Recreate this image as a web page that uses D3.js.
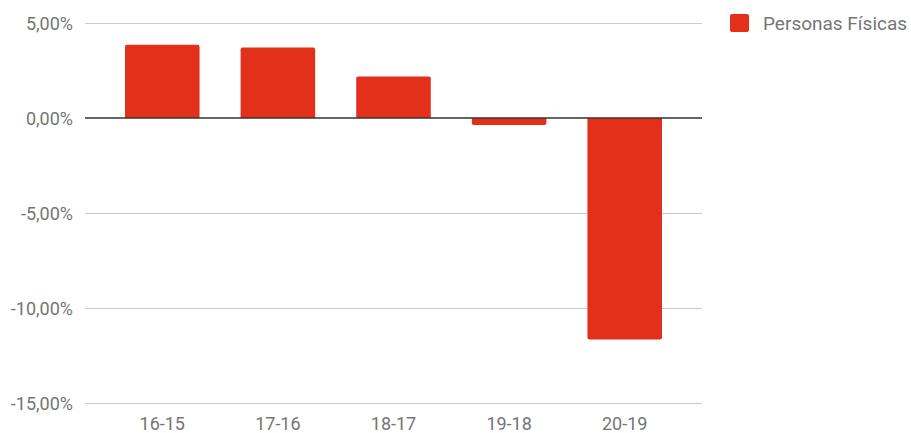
<!DOCTYPE html>
<head>
  <meta charset="utf-8">
  <script src="https://d3js.org/d3.v7.min.js"></script>
  <style>
    body { margin:0; background:#fff; }
    text { font-family: Roboto, sans-serif; }
  </style>
</head>
<body>
<script>
  var categories = ["16-15", "17-16", "18-17", "19-18", "20-19"];
  var values = [3.86, 3.71, 2.19, -0.37, -11.66];
  var yTicks = [5, 0, -5, -10, -15];
  var seriesName = "Personas Físicas";

  var width = 911, height = 433;
  var red = "#e2301a", grey = "#757575";

  var svg = d3.select("body").append("svg")
      .attr("width", width)
      .attr("height", height);

  var y = d3.scaleLinear().domain([-15, 5]).range([403, 23]);
  var x = d3.scaleBand().domain(categories).range([85, 702])
      .paddingInner(0.355).paddingOuter(0.346);

  var fmt = function(d) { return d.toFixed(2).replace(".", ",") + "%"; };

  // gridlines
  svg.selectAll("line.grid")
      .data(yTicks.filter(function(d) { return d !== 0; }))
      .enter().append("line")
      .attr("x1", 85).attr("x2", 702)
      .attr("y1", function(d) { return y(d) + 0.5; })
      .attr("y2", function(d) { return y(d) + 0.5; })
      .attr("stroke", "#cccccc").attr("stroke-width", 1);

  // y labels
  svg.selectAll("text.ylab")
      .data(yTicks)
      .enter().append("text")
      .attr("x", 73)
      .attr("y", function(d) { return y(d) + 6.5; })
      .attr("text-anchor", "end")
      .attr("font-size", 18)
      .attr("fill", grey)
      .text(fmt);

  // bars with small rounded end
  svg.selectAll("path.bar")
      .data(values)
      .enter().append("path")
      .attr("fill", red)
      .attr("d", function(d, i) {
        var x0 = x(categories[i]), w = x.bandwidth();
        var y0 = y(0), y1 = y(d), r = 2;
        var s = d >= 0 ? -1 : 1;
        return "M" + x0 + "," + y0 +
               "L" + x0 + "," + (y1 - s * r) +
               "Q" + x0 + "," + y1 + " " + (x0 + r) + "," + y1 +
               "L" + (x0 + w - r) + "," + y1 +
               "Q" + (x0 + w) + "," + y1 + " " + (x0 + w) + "," + (y1 - s * r) +
               "L" + (x0 + w) + "," + y0 + "Z";
      });

  // zero line
  svg.append("line")
      .attr("x1", 85).attr("x2", 702)
      .attr("y1", y(0)).attr("y2", y(0))
      .attr("stroke", "#333333").attr("stroke-width", 1.3);

  // x labels
  svg.selectAll("text.xlab")
      .data(categories)
      .enter().append("text")
      .attr("x", function(d) { return x(d) + x.bandwidth() / 2; })
      .attr("y", 430)
      .attr("text-anchor", "middle")
      .attr("font-size", 18)
      .attr("fill", grey)
      .text(function(d) { return d; });

  // legend
  svg.append("rect")
      .attr("x", 730).attr("y", 14)
      .attr("width", 19).attr("height", 18)
      .attr("rx", 2)
      .attr("fill", red);
  svg.append("text")
      .attr("x", 763).attr("y", 30)
      .attr("font-size", 19)
      .attr("fill", grey)
      .text(seriesName);
</script>
</body>
